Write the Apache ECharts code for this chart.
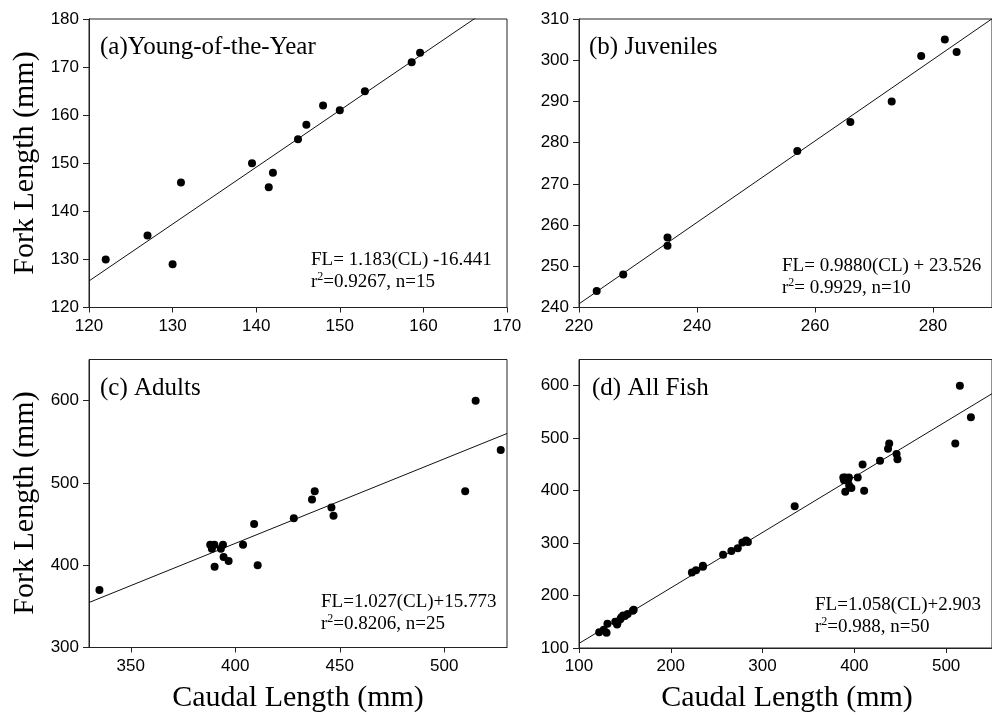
<!DOCTYPE html>
<html>
<head>
<meta charset="utf-8">
<title>Fork length vs caudal length</title>
<script src="https://cdn.jsdelivr.net/npm/echarts@6/dist/echarts.min.js"></script>
<style>
  html, body { margin: 0; padding: 0; background: #fff; }
  #chart { width: 992px; height: 715px; }
</style>
</head>
<body>
<div id="chart"></div>
<script>
// Caudal length (CL) and fork length (FL), mm, per life stage
const yoyCL = [122, 127, 130, 131, 139.5, 141.5, 142, 145, 146, 148, 150, 153, 158.6, 159.6];
const yoyFL = [130, 135, 129, 146, 150, 145, 148, 155, 158, 162, 161, 165, 171, 173];

const juvCL = [223, 227.5, 235, 235, 257, 266, 273, 278, 282, 284];
const juvFL = [244, 248, 257, 255, 278, 285, 290, 301, 305, 302];

const adultCL = [335, 388, 388.8, 390, 390.1, 393.1, 394.1, 394.4, 396.8, 403.7,
                 409, 410.7, 428, 436.7, 438, 446, 447, 510, 515, 527];
const adultFL = [370, 425, 420, 425, 398, 420, 425, 410, 405, 425,
                 450, 400, 457, 480, 490, 470, 460, 490, 600, 540];

// All fish pooled
const allCL = yoyCL.concat(juvCL, adultCL);
const allFL = yoyFL.concat(juvFL, adultFL);

// Regression fits: [slope, intercept]
const yoyFit = [1.183, -16.441];
const juvFit = [0.9880, 23.526];
const adultFit = [1.027, 15.773];
const allFit = [1.058, 2.903];

// Axis tick labels
const yoyX = [120, 130, 140, 150, 160, 170];
const yoyY = [120, 130, 140, 150, 160, 170, 180];
const juvX = [220, 240, 260, 280];
const juvY = [240, 250, 260, 270, 280, 290, 300, 310];
const adultX = [350, 400, 450, 500];
const adultY = [300, 400, 500, 600];
const allX = [100, 200, 300, 400, 500];
const allY = [100, 200, 300, 400, 500, 600];

// Axis extents
const ranges = [
  { x: [120, 170], y: [120, 180] },
  { x: [220, 290], y: [240, 310] },
  { x: [330, 530], y: [300, 650] },
  { x: [100, 550], y: [100, 650] }
];

const panels = [
  { cl: yoyCL, fl: yoyFL, fit: yoyFit, xt: yoyX, yt: yoyY },
  { cl: juvCL, fl: juvFL, fit: juvFit, xt: juvX, yt: juvY },
  { cl: adultCL, fl: adultFL, fit: adultFit, xt: adultX, yt: adultY },
  { cl: allCL, fl: allFL, fit: allFit, xt: allX, yt: allY }
];

const panelTitles = ['(a)Young-of-the-Year', '(b) Juveniles', '(c) Adults', '(d) All Fish'];
const equations = [
  ['FL= 1.183(CL) -16.441', '=0.9267, n=15'],
  ['FL= 0.9880(CL) + 23.526', '= 0.9929, n=10'],
  ['FL=1.027(CL)+15.773', '=0.8206, n=25'],
  ['FL=1.058(CL)+2.903', '=0.988, n=50']
];

const grids = [
  { left: 89, top: 19, width: 418, height: 288.5 },
  { left: 579, top: 19, width: 417, height: 288.5 },
  { left: 89, top: 359.5, width: 418, height: 288 },
  { left: 579, top: 359.5, width: 417, height: 288.5 }
];

const SERIF = '"Liberation Serif", "Times New Roman", serif';
const SANS = '"Liberation Sans", Arial, Helvetica, sans-serif';
const FRAME = '#222';

const xAxes = [], yAxes = [], series = [];
panels.forEach(function (p, i) {
  const r = ranges[i];
  xAxes.push({
    type: 'value', gridIndex: i, min: r.x[0], max: r.x[1],
    splitLine: { show: false },
    axisLine: { show: true, onZero: false, lineStyle: { color: FRAME, width: 1 } },
    axisTick: { show: true, length: 5, inside: false, customValues: p.xt, lineStyle: { color: FRAME } },
    axisLabel: { customValues: p.xt, margin: 10, color: '#000', fontSize: 17, fontFamily: SANS }
  });
  yAxes.push({
    type: 'value', gridIndex: i, min: r.y[0], max: r.y[1],
    splitLine: { show: false },
    axisLine: { show: true, onZero: false, lineStyle: { color: FRAME, width: 1 } },
    axisTick: { show: true, length: 6, inside: false, customValues: p.yt, lineStyle: { color: FRAME } },
    axisLabel: { customValues: p.yt, margin: 10, color: '#000', fontSize: 17, fontFamily: SANS }
  });
  // fitted line across the full x range of the panel
  const fitData = r.x.map(function (x) { return [x, p.fit[0] * x + p.fit[1]]; });
  series.push({
    type: 'line', xAxisIndex: i, yAxisIndex: i, data: fitData,
    showSymbol: false, clip: true, silent: true,
    lineStyle: { color: '#111', width: 1 }, z: 2
  });
  series.push({
    type: 'scatter', xAxisIndex: i, yAxisIndex: i,
    data: p.cl.map(function (x, k) { return [x, p.fl[k]]; }),
    symbol: 'circle', symbolSize: 8,
    itemStyle: { color: '#000', opacity: 1 }, z: 3
  });
});

// Panel headings and regression text
const titlePos = [[100, 47], [589, 47], [100, 388], [592, 388]];
const eqPos = [[311, 260], [782, 266], [321, 602], [815, 605]];

const graphics = [];
panelTitles.forEach(function (t, i) {
  graphics.push({
    type: 'text', x: titlePos[i][0], y: titlePos[i][1], z: 10,
    style: { text: t, font: '25px ' + SERIF, fill: '#000', align: 'left', verticalAlign: 'middle' }
  });
});
equations.forEach(function (e, i) {
  graphics.push({
    type: 'text', x: eqPos[i][0], y: eqPos[i][1], z: 10,
    style: { text: e[0], font: '19px ' + SERIF, fill: '#000', align: 'left', verticalAlign: 'middle' }
  });
  graphics.push({
    type: 'text', x: eqPos[i][0], y: eqPos[i][1] + 22, z: 10,
    style: {
      text: '{m|r}{s|2}{m|' + e[1] + '}',
      fill: '#000', align: 'left', verticalAlign: 'middle',
      rich: {
        m: { fontSize: 19, fontFamily: SERIF, color: '#000', verticalAlign: 'middle' },
        s: { fontSize: 12, fontFamily: SERIF, color: '#000', verticalAlign: 'middle', padding: [0, 0, 11, 0] }
      }
    }
  });
});

// Shared axis titles
[163, 503].forEach(function (cy) {
  graphics.push({
    type: 'text', x: 25, y: cy, rotation: Math.PI / 2, z: 10,
    style: { text: 'Fork Length (mm)', font: '30px ' + SERIF, fill: '#000', align: 'center', verticalAlign: 'middle' }
  });
});
[298, 787].forEach(function (cx) {
  graphics.push({
    type: 'text', x: cx, y: 698, z: 10,
    style: { text: 'Caudal Length (mm)', font: '30px ' + SERIF, fill: '#000', align: 'center', verticalAlign: 'middle' }
  });
});

const chart = echarts.init(document.getElementById('chart'), null, { renderer: 'canvas' });
chart.setOption({
  backgroundColor: '#fff',
  animation: false,
  grid: grids.map(function (g) {
    return Object.assign({ show: true, borderColor: FRAME, borderWidth: 1, backgroundColor: 'transparent' }, g);
  }),
  xAxis: xAxes,
  yAxis: yAxes,
  series: series,
  graphic: graphics
});
</script>
</body>
</html>
